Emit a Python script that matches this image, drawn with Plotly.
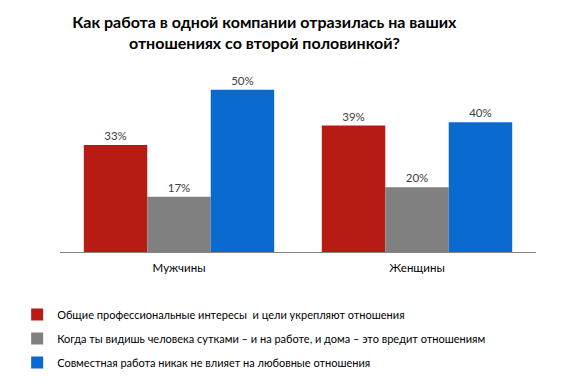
import plotly.graph_objects as go

categories = ["Мужчины", "Женщины"]
series_names = [
    "Общие профессиональные интересы  и цели укрепляют отношения",
    "Когда ты видишь человека сутками – и на работе, и дома – это вредит отношениям",
    "Совместная работа никак не влияет на любовные отношения",
]
series_values = [
    [33, 39],
    [17, 20],
    [50, 40],
]
colors = ["#B71C14", "#808080", "#0A6ACF"]

FONT = "Lato"

fig = go.Figure()
for i, (name, vals, c) in enumerate(zip(series_names, series_values, colors)):
    fig.add_trace(go.Bar(
        x=categories, y=vals, name=name, marker=dict(color=c, line=dict(width=0)),
        text=[f"{v}%" for v in vals], textposition="outside", cliponaxis=False,
        textfont=dict(size=11.5, color="#404040", family=FONT),
        legendgroup=f"g{i}",
    ))

# page body has an 8px margin, so the figure is laid out 8px smaller
fig.update_layout(
    width=580, height=372,
    margin=dict(l=52, r=52, t=64, b=128),
    paper_bgcolor="white", plot_bgcolor="white",
    barmode="group", bargap=0.2, bargroupgap=0,
    title=dict(
        text="<b>Как работа в одной компании отразилась на ваших<br>отношениях со второй половинкой?</b>",
        x=0.442, xanchor="center", y=0.945, yanchor="top",
        font=dict(size=16, color="#000000", family=FONT),
    ),
    xaxis=dict(showline=True, linecolor="#868686", linewidth=1, ticks="",
               ticklabelstandoff=5,
               tickfont=dict(size=11.5, color="#000000", family=FONT), showgrid=False),
    yaxis=dict(visible=False, range=[0, 55.5], showgrid=False),
    legend=dict(
        orientation="v", x=-0.09, xanchor="left", y=0.215, yanchor="top",
        xref="paper", yref="container",
        font=dict(size=11, color="#000000", family=FONT),
        tracegroupgap=5, itemwidth=30,
    ),
    showlegend=True,
)
fig.write_html("out.html")
